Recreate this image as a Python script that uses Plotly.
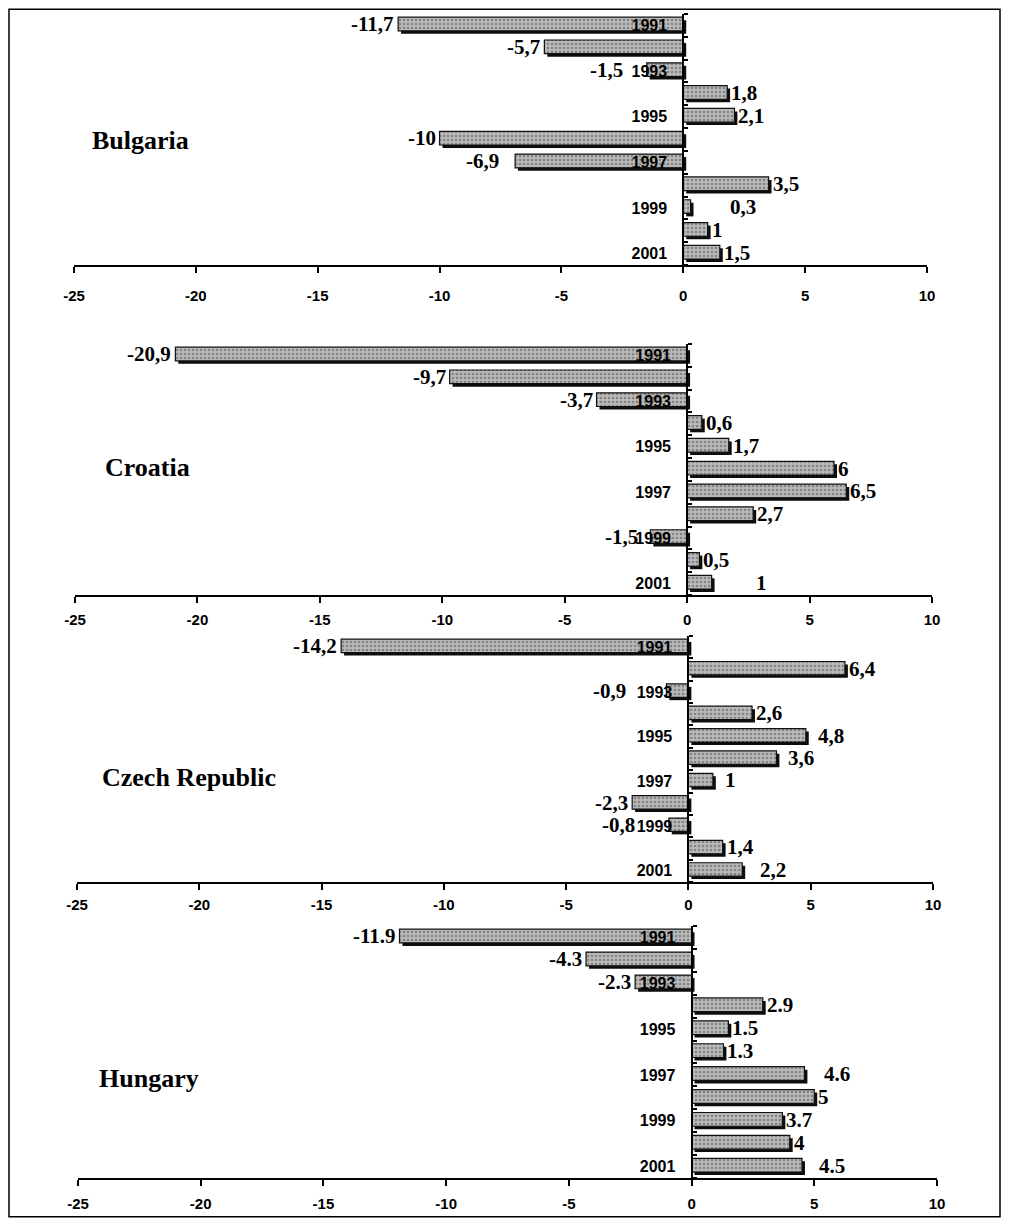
import plotly.graph_objects as go

# ---------------- data ----------------
years = [1991, 1992, 1993, 1994, 1995, 1996, 1997, 1998, 1999, 2000, 2001]
year_tickvals = [1991, 1993, 1995, 1997, 1999, 2001]
year_ticktext = ["1991", "1993", "1995", "1997", "1999", "2001"]

countries = ["Bulgaria", "Croatia", "Czech Republic", "Hungary"]
bulgaria = [-11.7, -5.7, -1.5, 1.8, 2.1, -10, -6.9, 3.5, 0.3, 1, 1.5]
croatia = [-20.9, -9.7, -3.7, 0.6, 1.7, 6, 6.5, 2.7, -1.5, 0.5, 1]
czech = [-14.2, 6.4, -0.9, 2.6, 4.8, 3.6, 1, -2.3, -0.8, 1.4, 2.2]
hungary = [-11.9, -4.3, -2.3, 2.9, 1.5, 1.3, 4.6, 5, 3.7, 4, 4.5]
series = [bulgaria, croatia, czech, hungary]
decimal_sep = [",", ",", ",", "."]

x_tickvals = [-25, -20, -15, -10, -5, 0, 5, 10]
x_ticktext = ["-25", "-20", "-15", "-10", "-5", "0", "5", "10"]
x_range = [-25, 10]

# ---------------- style: extra horizontal nudges of value labels (px) ----------------
label_nudge_bulgaria = [0, 0, -20, 0, 0, 0, -12, 0, 35, 0, 0]
label_nudge_croatia = [0, 0, 0, 0, 0, 0, 0, 0, -8, 0, 40]
label_nudge_czech = [0, 0, -36, 0, 8, 8, 8, 0, -30, 0, 14]
label_nudge_hungary = [0, 0, 0, 0, 0, 0, 16, 0, 0, 0, 13]
label_nudges = [label_nudge_bulgaria, label_nudge_croatia, label_nudge_czech, label_nudge_hungary]

# ---------------- geometry (reference-page pixels) ----------------
PAGE_OFF = 8            # browser body margin
W, H = 993, 1210        # figure size that fits the window without scrolling
panel_x_px = [(74, 927), (75, 932), (77, 933), (78, 937)]
panel_y_px = [(14, 265), (344, 595), (636, 882), (926, 1178)]
title_px = [(90, 140), (103, 467), (100, 777), (97, 1078)]
xlabel_standoff = [10, 4, 2, 5]


def fx(px):
    return (px - PAGE_OFF) / W


def fy(py):
    return 1 - (py - PAGE_OFF) / H


SHADOW_DX = 0.12   # data units (~3px)
BAR_W = 0.6
BAR_OFF = -0.36
SHADOW_DY = 0.13
POS_PAD = 0
NEG_PAD = -3

label_font = dict(family="Liberation Serif", size=21, color="black", weight="bold")
axis_font = dict(family="Liberation Sans", size=15, color="black", weight="bold")
year_font = dict(family="Liberation Sans", size=16, color="black", weight="bold")

fig = go.Figure()
layout = dict(
    width=W, height=H,
    margin=dict(l=0, r=0, t=0, b=0, autoexpand=False),
    paper_bgcolor="white", plot_bgcolor="rgba(0,0,0,0)",
    barmode="overlay", showlegend=False,
    annotations=[], shapes=[],
)

for i, (name, vals, sep) in enumerate(zip(countries, series, decimal_sep)):
    k = "" if i == 0 else str(i + 1)
    xa, ya = "x" + k, "y" + k
    texts = [f"{v:g}".replace(".", sep) for v in vals]

    # shadow
    fig.add_trace(go.Bar(
        y=years, x=vals, base=[SHADOW_DX] * len(vals), orientation="h",
        width=BAR_W, offset=BAR_OFF + SHADOW_DY,
        marker=dict(color="#0d0d0d", line=dict(width=0)),
        xaxis=xa, yaxis=ya, hoverinfo="skip",
    ))
    # main bars
    fig.add_trace(go.Bar(
        y=years, x=vals, orientation="h",
        width=BAR_W, offset=BAR_OFF,
        marker=dict(
            color="#b4b4b4",
            pattern=dict(shape=".", fgcolor="#4d4d4d", bgcolor="#bababa",
                         size=4, solidity=0.35),
            line=dict(color="#111111", width=1.2),
        ),
        xaxis=xa, yaxis=ya,
    ))

    # value labels
    for yv, v, t, nudge in zip(years, vals, texts, label_nudges[i]):
        if v >= 0:
            ax_x, anchor, shift = v + SHADOW_DX, "left", POS_PAD + nudge
        else:
            ax_x, anchor, shift = v, "right", NEG_PAD + nudge
        layout["annotations"].append(dict(
            text=t, xref=xa, yref=ya, x=ax_x, y=yv,
            xanchor=anchor, yanchor="middle", xshift=shift, yshift=1,
            showarrow=False, font=label_font, borderpad=0,
        ))

    x0, x1 = panel_x_px[i]
    y0, y1 = panel_y_px[i]
    xdom = [fx(x0), fx(x1)]
    zero_pos = xdom[0] + (0 - x_range[0]) / (x_range[1] - x_range[0]) * (xdom[1] - xdom[0])

    layout["xaxis" + k] = dict(
        domain=xdom, range=x_range, anchor=ya, automargin=False,
        showline=True, linecolor="black", linewidth=2,
        ticks="outside", ticklen=6, tickwidth=2, tickcolor="black",
        tickvals=x_tickvals, ticktext=x_ticktext, tickfont=axis_font,
        ticklabelstandoff=xlabel_standoff[i],
        showgrid=False, zeroline=False, fixedrange=True,
    )
    layout["yaxis" + k] = dict(
        domain=[fy(y1), fy(y0)], range=[2001.5, 1990.5],
        anchor="free", position=zero_pos, side="left", automargin=False,
        showline=True, linecolor="black", linewidth=2,
        tickmode="array", tickvals=year_tickvals, ticktext=year_ticktext,
        ticks="", tickfont=year_font, ticklabelstandoff=12,
        minor=dict(tickmode="array",
                   tickvals=[y + 0.5 for y in [years[0] - 1] + years],
                   ticks="inside", ticklen=4, tickwidth=1.5, tickcolor="black"),
        showgrid=False, zeroline=False, fixedrange=True,
        layer="above traces",
    )

    tx, ty = title_px[i]
    layout["annotations"].append(dict(
        text=name, xref="paper", yref="paper", x=fx(tx), y=fy(ty),
        xanchor="left", yanchor="middle", showarrow=False,
        font=dict(family="Liberation Serif", size=26, color="black", weight="bold"),
    ))

layout["shapes"].append(dict(
    type="rect", xref="paper", yref="paper",
    x0=0.001, x1=fx(1000), y0=0.001, y1=0.999,
    line=dict(color="black", width=1.5), fillcolor="rgba(0,0,0,0)",
))

fig.update_layout(**layout)
fig.write_html("out.html")
